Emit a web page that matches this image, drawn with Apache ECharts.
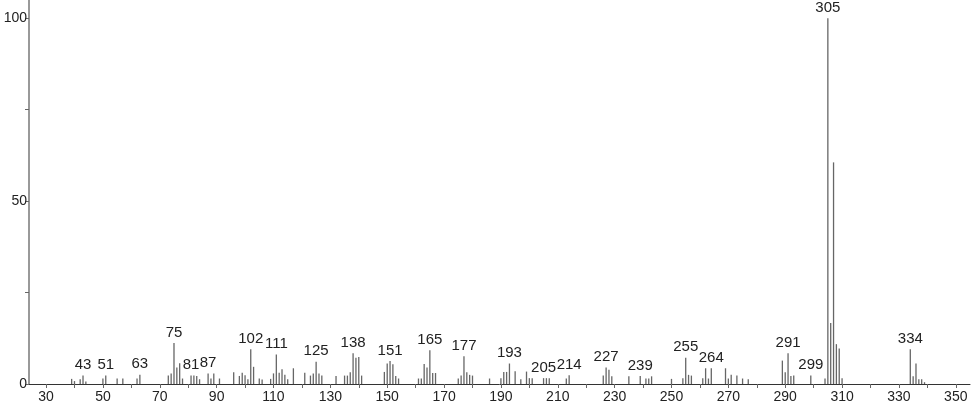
<!DOCTYPE html>
<html>
<head>
<meta charset="utf-8">
<script src="https://cdn.jsdelivr.net/npm/echarts@6/dist/echarts.min.js"></script>
<style>
html,body{margin:0;padding:0;background:#fff;}
#chart{width:974px;height:406px;}
</style>
</head>
<body>
<div id="chart"></div>
<script>
// m/z values and relative intensities (%)
var mz = [39,40,42,43,44,50,51,55,57,62,63,73,74,75,76,77,78,81,82,83,84,87,88,89,91,
  96,98,99,100,101,102,103,105,106,109,110,111,112,113,114,115,117,121,123,124,125,126,127,
  132,135,136,137,138,139,140,141,149,150,151,152,153,154,161,162,163,164,165,166,167,
  175,176,177,178,179,180,186,190,191,192,193,195,197,199,200,201,205,206,207,213,214,
  226,227,228,229,235,239,241,242,243,250,254,255,256,257,261,262,263,264,269,270,271,273,275,277,
  289,290,291,292,293,299,304,305,306,307,308,309,310,334,335,336,337,338,339];
var intensity = [1.4,0.8,1.3,2.3,0.7,1.5,2.3,1.5,1.5,1.5,2.5,2.3,2.9,11.2,4.5,5.7,1.5,2.3,2.3,2.2,1.3,2.9,1.5,2.9,1.5,
  3.2,2.2,3.1,2.4,1.3,9.5,4.7,1.5,1.2,1.4,2.9,8.1,3.1,4.0,2.5,1.3,4.3,3.1,2.3,2.9,6.1,2.9,2.3,
  2.2,2.3,2.3,3.2,8.4,7.2,7.4,2.3,3.3,5.6,6.3,5.4,2.2,1.5,1.5,1.5,5.5,4.5,9.2,3.0,3.0,
  1.5,2.3,7.6,3.2,2.5,2.3,1.5,1.6,3.3,3.3,5.6,3.5,1.3,3.4,1.6,1.6,1.6,1.6,1.6,1.5,2.4,
  2.3,4.5,3.9,2.1,2.1,2.2,1.5,1.5,2.1,1.4,1.6,7.2,2.5,2.3,1.6,4.3,1.5,4.3,4.3,1.5,2.5,2.3,1.5,1.3,
  6.4,3.2,8.4,2.2,2.3,2.3,1.5,100,16.7,60.6,10.9,9.7,1.6,9.5,2.1,5.6,1.3,1.3,0.5];
// peaks annotated with their m/z
var labeledPeaks = [43,51,63,75,81,87,102,111,125,138,151,165,177,193,205,214,227,239,255,264,291,299,305,334];
// axis tick labels
var xTickLabels = [30,50,70,90,110,130,150,170,190,210,230,250,270,290,310,330,350];
var xTicks = [30,40,50,60,70,80,90,100,110,120,130,140,150,160,170,180,190,200,210,220,230,240,250,260,270,280,290,300,310,320,330,340,350];
var yTickLabels = [0,50,100];
var yTicks = [0,25,50,75,100];

var FONT = 'Liberation Sans';
var data = mz.map(function (m, i) {
  var item = { value: [m, intensity[i]] };
  if (labeledPeaks.indexOf(m) >= 0) {
    item.label = { show: true };
  }
  return item;
});

var chart = echarts.init(document.getElementById('chart'));
chart.setOption({
  animation: false,
  backgroundColor: '#fff',
  grid: { left: 29, right: 4, top: 0, bottom: 22, containLabel: false, outerBoundsMode: 'none' },
  xAxis: {
    type: 'value',
    min: 24,
    max: 355,
    axisLine: { show: true, onZero: false, lineStyle: { color: '#333', width: 1 } },
    axisTick: { show: true, customValues: xTicks, length: 4, lineStyle: { color: '#666' } },
    axisLabel: { customValues: xTickLabels, color: '#222', fontSize: 14, fontFamily: FONT, margin: 6 },
    splitLine: { show: false }
  },
  yAxis: {
    type: 'value',
    min: 0,
    max: 105,
    axisLine: { show: true, lineStyle: { color: '#999', width: 2 } },
    axisTick: { show: true, customValues: yTicks, length: 4, lineStyle: { color: '#666' } },
    axisLabel: { customValues: yTickLabels, color: '#222', fontSize: 14, fontFamily: FONT, margin: 2 },
    splitLine: { show: false }
  },
  series: [{
    type: 'bar',
    barWidth: 1.3,
    itemStyle: { color: '#666' },
    label: {
      show: false,
      position: 'top',
      distance: 3,
      color: '#222',
      fontSize: 15,
      fontFamily: FONT,
      formatter: function (p) { return String(p.value[0]); }
    },
    data: data
  }]
});
</script>
</body>
</html>
